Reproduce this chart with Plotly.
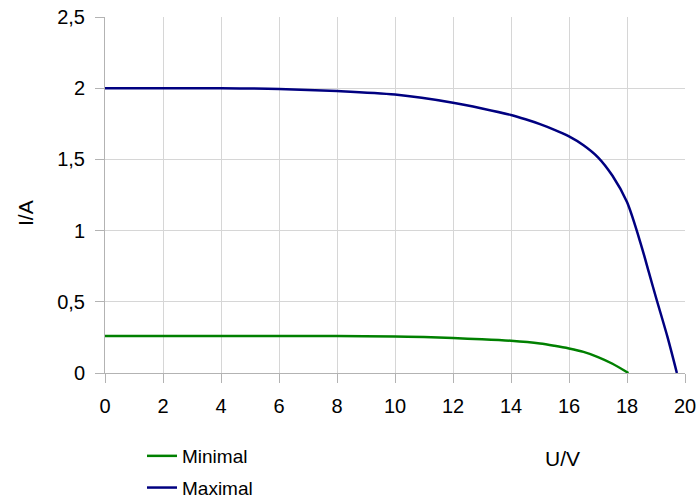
import plotly.graph_objects as go

# I-V characteristic of a solar module, minimal and maximal irradiance
u_min = [0, 2, 4, 6, 8, 10, 11, 12, 13, 14, 15, 15.5, 16, 16.5, 17, 17.5, 18.05]
i_min = [0.26, 0.26, 0.26, 0.26, 0.26, 0.256, 0.252, 0.245, 0.237, 0.226, 0.207, 0.191, 0.172, 0.148, 0.112, 0.065, 0.0]

u_max = [0, 2, 4, 6, 8, 10, 12, 13, 14, 14.5, 15, 15.5, 16, 16.5, 17, 17.5, 18, 18.5, 18.75, 19, 19.4, 19.72]
i_max = [2.0, 2.0, 2.0, 1.995, 1.98, 1.955, 1.898, 1.858, 1.812, 1.782, 1.748, 1.708, 1.662, 1.600, 1.515, 1.385, 1.2, 0.89, 0.71, 0.53, 0.25, 0.0]

x_ticks = list(range(0, 21, 2))
y_ticks = [0, 0.5, 1, 1.5, 2, 2.5]

font = "Liberation Sans, Arial, sans-serif"

fig = go.Figure()
fig.add_trace(go.Scatter(x=u_min, y=i_min, mode="lines", name="Minimal",
                         line=dict(color="#008000", width=2.5, shape="spline", smoothing=0.8),
                         legendgroup="a"))
fig.add_trace(go.Scatter(x=u_max, y=i_max, mode="lines", name="Maximal",
                         line=dict(color="#000080", width=2.5, shape="spline", smoothing=0.8),
                         legendgroup="b"))

axis_common = dict(showgrid=True, gridcolor="#d6d6d6", gridwidth=1,
                   showline=True, linecolor="#b3b3b3", linewidth=1,
                   ticks="outside", ticklen=9, tickcolor="#b3b3b3",
                   zeroline=False, automargin=False,
                   tickfont=dict(family=font, size=20, color="#000"))

L, R, T, B = 105, 13, 17, 126
W, H = 698, 499
pw, ph = W - L - R, H - T - B


def px_to_paper(x, y):
    return (x - L) / pw, (H - B - y) / ph


ux, uy = px_to_paper(562, 458)
ix, iy = px_to_paper(25, 213)
lx, ly = px_to_paper(142, 437)

fig.update_layout(
    width=W, height=H,
    margin=dict(l=L, r=R, t=T, b=B, autoexpand=False),
    paper_bgcolor="white", plot_bgcolor="white",
    separators=",.",
    xaxis=dict(range=[0, 20], tickvals=x_ticks, ticklabelstandoff=6, **axis_common),
    yaxis=dict(range=[0, 2.5], tickvals=y_ticks, ticklabelstandoff=6, **axis_common),
    showlegend=True,
    legend=dict(x=lx, xanchor="left", y=ly, yanchor="top",
                orientation="v", itemwidth=30, tracegroupgap=4,
                font=dict(family=font, size=19, color="#000"),
                bgcolor="rgba(0,0,0,0)"),
    annotations=[
        dict(text="U/V", x=ux, y=uy, xref="paper", yref="paper", showarrow=False,
             xanchor="center", yanchor="middle",
             font=dict(family=font, size=21, color="#000")),
        dict(text="I/A", x=ix, y=iy, xref="paper", yref="paper", showarrow=False,
             xanchor="center", yanchor="middle", textangle=-90,
             font=dict(family=font, size=21, color="#000")),
    ],
)

fig.write_html("out.html")
